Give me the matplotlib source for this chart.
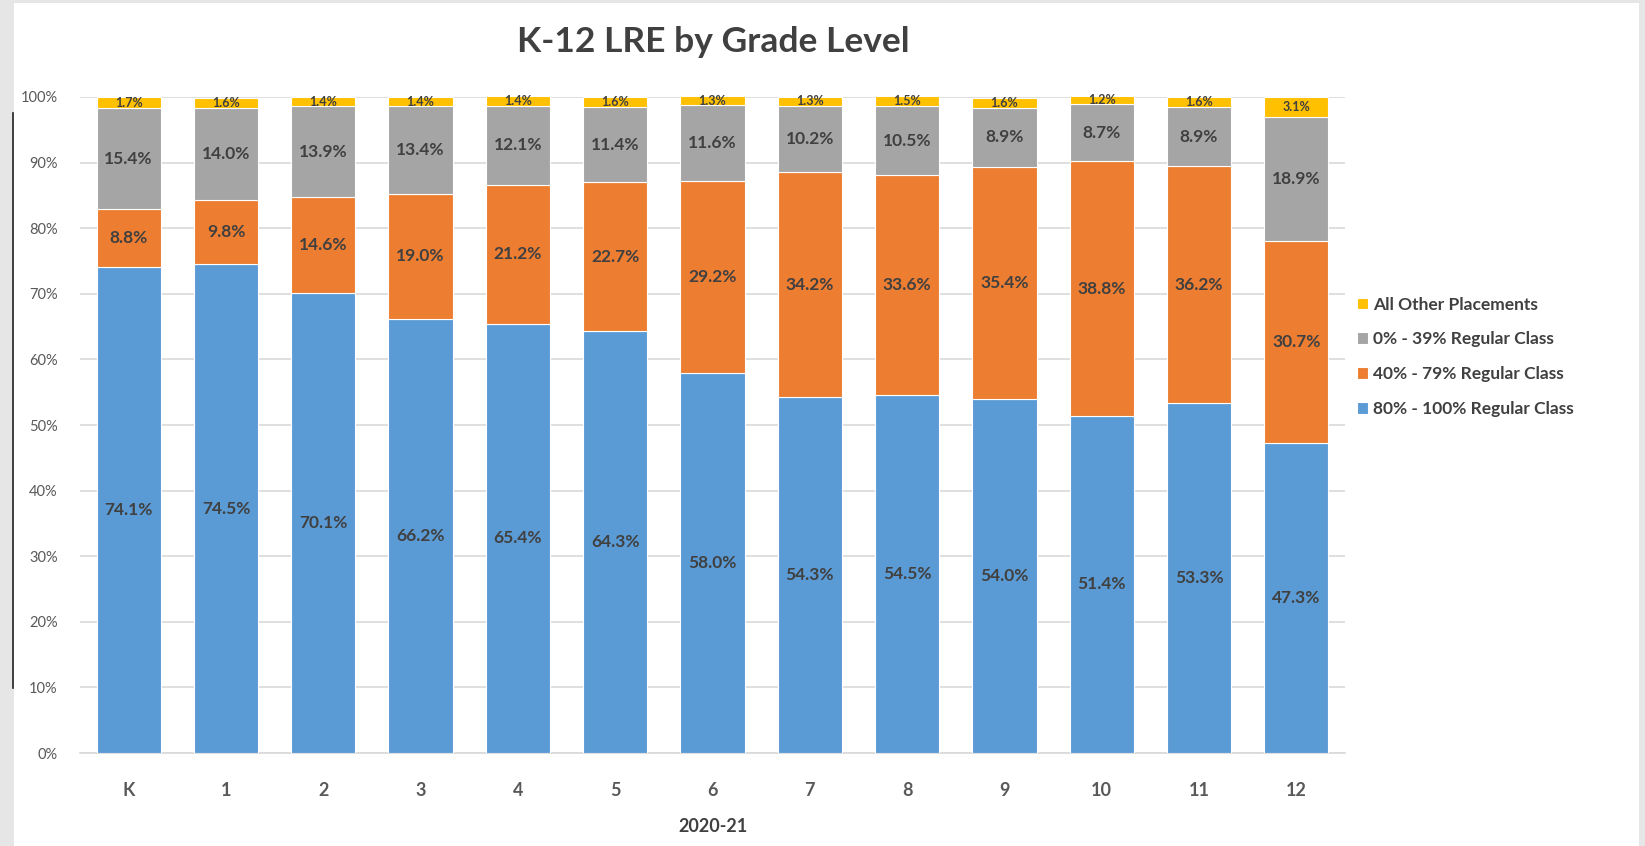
import matplotlib
matplotlib.use("Agg")
import matplotlib.pyplot as plt
from matplotlib.patches import Rectangle
from matplotlib.lines import Line2D
import numpy as np

plt.rcParams['font.family'] = ['Lato', 'DejaVu Sans']

grades = ["K", "1", "2", "3", "4", "5", "6", "7", "8", "9", "10", "11", "12"]
reg_80_100 = [74.1, 74.5, 70.1, 66.2, 65.4, 64.3, 58.0, 54.3, 54.5, 54.0, 51.4, 53.3, 47.3]
reg_40_79 = [8.8, 9.8, 14.6, 19.0, 21.2, 22.7, 29.2, 34.2, 33.6, 35.4, 38.8, 36.2, 30.7]
reg_0_39 = [15.4, 14.0, 13.9, 13.4, 12.1, 11.4, 11.6, 10.2, 10.5, 8.9, 8.7, 8.9, 18.9]
other = [1.7, 1.6, 1.4, 1.4, 1.4, 1.6, 1.3, 1.3, 1.5, 1.6, 1.2, 1.6, 3.1]

series = [
    ("80% - 100% Regular Class", reg_80_100, "#5B9BD5"),
    ("40% - 79% Regular Class", reg_40_79, "#ED7D31"),
    ("0% - 39% Regular Class", reg_0_39, "#A5A5A5"),
    ("All Other Placements", other, "#FFC000"),
]

W, H = 1645, 846
fig = plt.figure(figsize=(W / 100, H / 100), dpi=100, facecolor="#E6E6E6")
fig.patches.append(Rectangle((14 / W, 0), (1639 - 14) / W, 1 - 3 / H, transform=fig.transFigure,
                             facecolor="white", edgecolor="none", zorder=-5))
fig.lines.append(Line2D([13 / W, 13 / W], [1 - 113 / H, 1 - 688 / H], transform=fig.transFigure,
                        color="#222222", lw=1.2))

ax = fig.add_axes([80 / W, 1 - 753 / H, (1345 - 80) / W, (753 - 97) / H])
ax.set_facecolor("none")
x = np.arange(len(grades))
bottom = np.zeros(len(grades))
text_color = "#404040"
handles = []
for name, vals, col in series:
    vals = np.array(vals)
    b = ax.bar(x, vals, 0.66, bottom=bottom, color=col, edgecolor="white", linewidth=0.8,
               label=name, zorder=3)
    handles.append(b)
    small = name == "All Other Placements"
    for xi, v, bt in zip(x, vals, bottom):
        ax.text(xi, bt + v / 2, f"{v:.1f}%", ha="center", va="center",
                fontsize=9 if small else 12.5, fontweight="bold", color=text_color, zorder=4)
    bottom += vals

ax.set_ylim(0, 100)
ax.set_xlim(-0.5, len(grades) - 0.5)
ax.set_yticks(np.arange(0, 101, 10))
ax.set_yticklabels([f"{v}%" for v in range(0, 101, 10)], fontsize=10.5, color="#595959")
ax.set_xticks(x)
ax.set_xticklabels(grades, fontsize=13, fontweight="bold", color="#595959")
ax.tick_params(axis="both", length=0)
ax.tick_params(axis="x", pad=21)
ax.tick_params(axis="y", pad=16)
ax.grid(axis="y", color="#D9D9D9", lw=1.2, zorder=0)
for s in ["top", "right", "left"]:
    ax.spines[s].set_visible(False)
ax.spines["bottom"].set_color("#D9D9D9")
ax.spines["bottom"].set_linewidth(1.2)

fig.text(713 / W, 1 - 42 / H, "K-12 LRE by Grade Level", ha="center", va="center",
         fontsize=25.5, fontweight="bold", color="#404040")
fig.text(713 / W, 1 - 826 / H, "2020-21", ha="center", va="center",
         fontsize=13, fontweight="bold", color="#404040")

leg = fig.legend(handles[::-1], [s[0] for s in series][::-1], loc="upper left",
                 bbox_to_anchor=(1341 / W, 1 - 281 / H), frameon=False, fontsize=12.5,
                 handlelength=0.65, handleheight=0.65, handletextpad=0.3, labelspacing=1.08,
                 labelcolor="#404040")
for t in leg.get_texts():
    t.set_fontweight("bold")

fig.savefig("out.png", dpi=100, facecolor=fig.get_facecolor())
